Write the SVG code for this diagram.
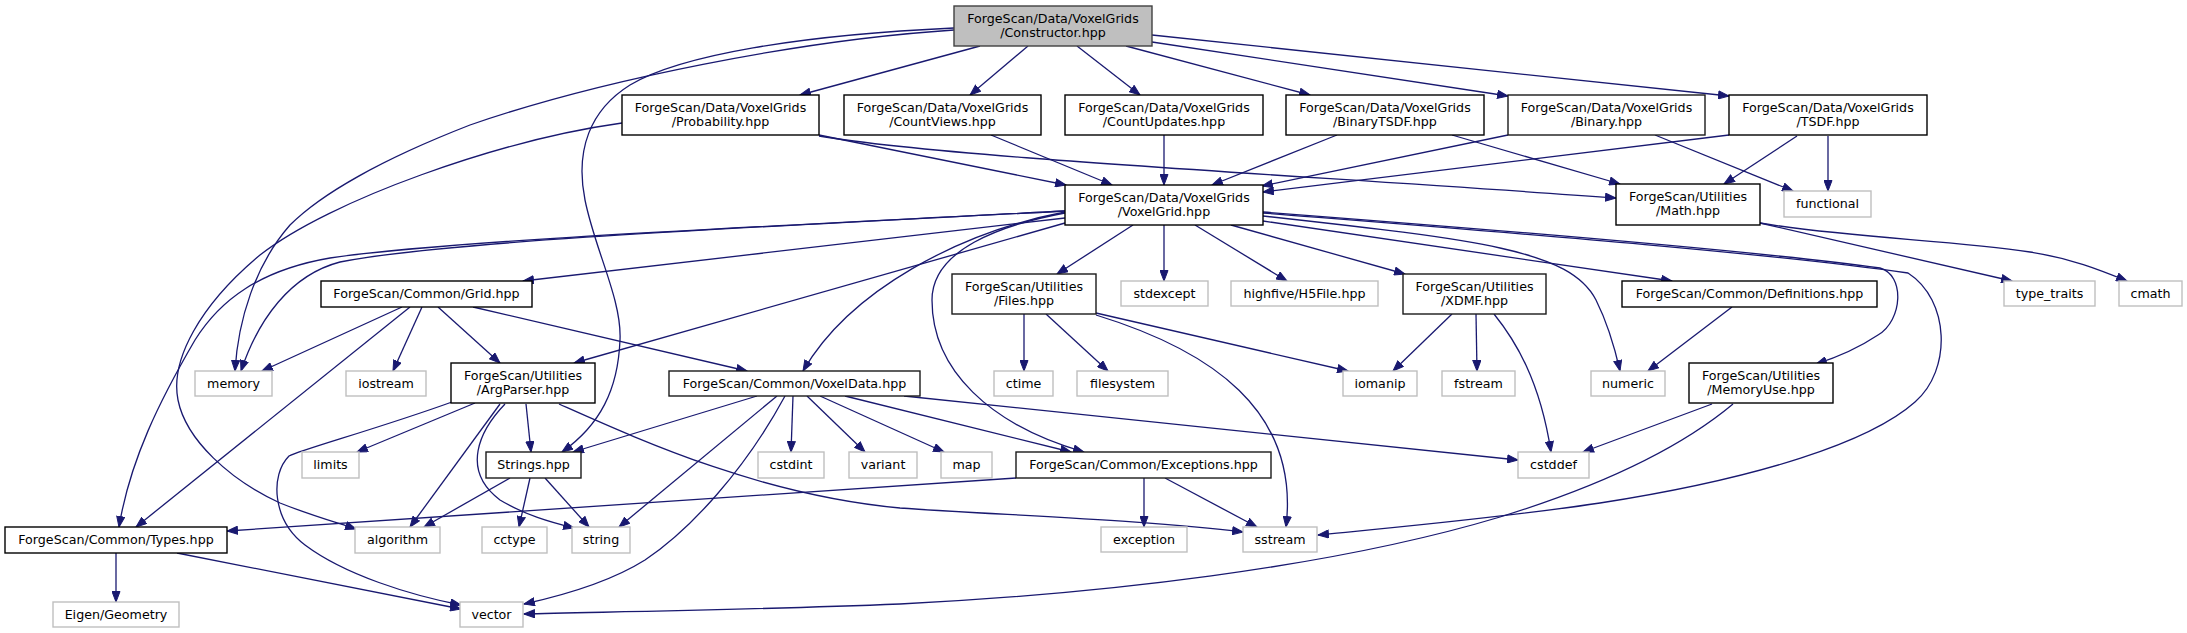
<svg xmlns="http://www.w3.org/2000/svg" width="2187" height="633" viewBox="0 0 2187 633">
<defs>
<style>
rect{fill:#fff;stroke:#000;stroke-width:1.4}
.g rect{stroke:#bfbfbf}
.d rect{stroke:#1a1a1a}
.r rect{fill:#bfbfbf;stroke:#404040}
text{font-family:"DejaVu Sans","Liberation Sans",sans-serif;font-size:12.67px;text-anchor:middle;fill:#000}
#edges path{fill:none;stroke:#191970;stroke-width:1.3;marker-end:url(#a)}
</style>
<marker id="a" markerWidth="12" markerHeight="9" refX="11" refY="4.5" orient="auto" markerUnits="userSpaceOnUse"><path d="M0.5,0.5 L11,4.5 L0.5,8.5 z" fill="#191970" stroke="#191970" stroke-width="1"/></marker>
</defs>
<rect x="0" y="0" width="2187" height="633" style="fill:#fff;stroke:none"/>
<g id="edges">
<path d="M980,46 L800,95"/>
<path d="M1028,46 L970,95"/>
<path d="M1077,46 L1140,95"/>
<path d="M1126,46 L1310,95"/>
<path d="M1152,42 L1508,96"/>
<path d="M1152,35 L1729,96"/>
<path d="M954,28 C800,35 680,55 630,85 C590,110 575,150 585,200 C595,250 622,300 620,340 C618,390 600,425 562,452"/>
<path d="M954,30 C800,40 600,80 470,125 C380,160 320,195 290,225 C255,265 238,320 235,371"/>
<path d="M819,135 L1066,185"/>
<path d="M819,136 C950,158 1300,175 1616,198"/>
<path d="M622,123 C500,140 330,200 260,255 C200,305 170,360 178,400 C186,440 230,480 280,503 C310,515 335,522 356,529"/>
<path d="M991,135 L1112,185"/>
<path d="M1164,135 L1164,185"/>
<path d="M1337,135 L1212,185"/>
<path d="M1452,135 L1620,184"/>
<path d="M1508,135 L1262,186"/>
<path d="M1655,135 L1793,191"/>
<path d="M1729,135 L1263,192"/>
<path d="M1797,136 L1724,184"/>
<path d="M1828,136 L1828,191"/>
<path d="M1065,218 L523,281"/>
<path d="M1065,211 C800,225 450,240 340,262 C290,275 258,320 241,371"/>
<path d="M1065,211 C800,225 450,240 330,258 C260,270 220,300 195,340 C160,400 130,460 119,527"/>
<path d="M1065,223 L574,363"/>
<path d="M1065,212 C960,232 850,290 803,371"/>
<path d="M1065,213 C1000,225 932,250 932,300 C932,370 990,425 1084,452"/>
<path d="M1133,225 L1057,274"/>
<path d="M1164,225 L1164,281"/>
<path d="M1195,225 L1287,281"/>
<path d="M1231,225 L1405,274"/>
<path d="M1263,221 L1672,281"/>
<path d="M1263,216 C1480,240 1570,250 1596,300 C1605,318 1613,340 1620,371"/>
<path d="M1263,212 C1500,230 1750,250 1880,268 C1905,275 1903,320 1878,335 C1860,347 1838,357 1816,364"/>
<path d="M1263,213 C1500,232 1760,252 1908,273 C1950,300 1952,370 1915,402 C1870,442 1760,478 1600,503 C1500,518 1400,527 1318,535"/>
<path d="M402,307 L262,371"/>
<path d="M410,307 L136,527"/>
<path d="M422,307 L393,371"/>
<path d="M438,307 L500,363"/>
<path d="M473,307 L747,371"/>
<path d="M452,402 C380,428 300,450 289,456 C270,475 272,520 305,545 C345,575 410,595 461,605"/>
<path d="M475,403 L357,452"/>
<path d="M500,404 L410,527"/>
<path d="M505,404 C480,430 460,470 500,500 C525,515 550,522 574,528"/>
<path d="M526,404 L531,452"/>
<path d="M559,404 C640,440 760,495 900,508 C1000,515 1150,520 1243,532"/>
<path d="M510,478 L424,527"/>
<path d="M530,478 L519,527"/>
<path d="M545,478 L589,527"/>
<path d="M116,553 L116,602"/>
<path d="M177,553 L461,609"/>
<path d="M757,396 L573,452"/>
<path d="M777,396 L619,527"/>
<path d="M785,396 C745,470 690,530 645,560 C610,582 565,595 524,604"/>
<path d="M793,396 L791,452"/>
<path d="M807,396 L865,452"/>
<path d="M820,396 L944,452"/>
<path d="M845,396 L1071,452"/>
<path d="M904,396 L1518,460"/>
<path d="M1024,314 L1024,371"/>
<path d="M1046,314 L1108,371"/>
<path d="M1096,313 L1348,371"/>
<path d="M1096,315 C1210,350 1300,410 1286,527"/>
<path d="M1452,314 L1393,371"/>
<path d="M1476,314 L1477,371"/>
<path d="M1494,314 C1515,340 1540,380 1551,452"/>
<path d="M1016,478 L227,531"/>
<path d="M1144,478 L1144,527"/>
<path d="M1165,478 L1257,527"/>
<path d="M1760,223 L2012,281"/>
<path d="M1760,223 C1850,238 1950,240 2030,252 C2070,258 2100,270 2127,281"/>
<path d="M1732,307 L1648,371"/>
<path d="M1712,404 L1583,452"/>
<path d="M1733,404 C1690,440 1620,480 1500,517 C1330,568 1100,594 900,604 C750,610 600,612 524,614"/>
</g>
<g id="n-constructor" class="r"><rect x="954" y="6" width="198" height="40"/><text x="1053" y="22.5">ForgeScan/Data/VoxelGrids</text><text x="1053" y="36.5">/Constructor.hpp</text></g>
<g id="n-probability"><rect x="622" y="95" width="197" height="40"/><text x="720.5" y="111.5">ForgeScan/Data/VoxelGrids</text><text x="720.5" y="125.5">/Probability.hpp</text></g>
<g id="n-countviews"><rect x="844" y="95" width="197" height="40"/><text x="942.5" y="111.5">ForgeScan/Data/VoxelGrids</text><text x="942.5" y="125.5">/CountViews.hpp</text></g>
<g id="n-countupdates"><rect x="1065" y="95" width="198" height="40"/><text x="1164" y="111.5">ForgeScan/Data/VoxelGrids</text><text x="1164" y="125.5">/CountUpdates.hpp</text></g>
<g id="n-binarytsdf"><rect x="1286" y="95" width="198" height="40"/><text x="1385" y="111.5">ForgeScan/Data/VoxelGrids</text><text x="1385" y="125.5">/BinaryTSDF.hpp</text></g>
<g id="n-binary" class="d"><rect x="1508" y="95" width="197" height="40"/><text x="1606.5" y="111.5">ForgeScan/Data/VoxelGrids</text><text x="1606.5" y="125.5">/Binary.hpp</text></g>
<g id="n-tsdf"><rect x="1729" y="95" width="198" height="40"/><text x="1828" y="111.5">ForgeScan/Data/VoxelGrids</text><text x="1828" y="125.5">/TSDF.hpp</text></g>
<g id="n-voxelgrid"><rect x="1065" y="185" width="198" height="40"/><text x="1164" y="201.5">ForgeScan/Data/VoxelGrids</text><text x="1164" y="215.5">/VoxelGrid.hpp</text></g>
<g id="n-math"><rect x="1616" y="184" width="144" height="41"/><text x="1688" y="200.5">ForgeScan/Utilities</text><text x="1688" y="214.5">/Math.hpp</text></g>
<g id="n-functional" class="g"><rect x="1784" y="191" width="87" height="26"/><text x="1827.5" y="208">functional</text></g>
<g id="n-grid"><rect x="321" y="281" width="211" height="26"/><text x="426.5" y="298">ForgeScan/Common/Grid.hpp</text></g>
<g id="n-files" class="d"><rect x="952" y="274" width="144" height="40"/><text x="1024" y="290.5">ForgeScan/Utilities</text><text x="1024" y="304.5">/Files.hpp</text></g>
<g id="n-stdexcept" class="g"><rect x="1121" y="281" width="87" height="25"/><text x="1164.5" y="298">stdexcept</text></g>
<g id="n-highfive" class="g"><rect x="1231" y="281" width="147" height="25"/><text x="1304.5" y="298">highfive/H5File.hpp</text></g>
<g id="n-xdmf" class="d"><rect x="1403" y="274" width="143" height="40"/><text x="1474.5" y="290.5">ForgeScan/Utilities</text><text x="1474.5" y="304.5">/XDMF.hpp</text></g>
<g id="n-definitions"><rect x="1622" y="281" width="255" height="26"/><text x="1749.5" y="298">ForgeScan/Common/Definitions.hpp</text></g>
<g id="n-type_traits" class="g"><rect x="2004" y="281" width="91" height="25"/><text x="2049.5" y="298">type_traits</text></g>
<g id="n-cmath" class="g"><rect x="2119" y="281" width="63" height="25"/><text x="2150.5" y="298">cmath</text></g>
<g id="n-memory" class="g"><rect x="195" y="371" width="77" height="25"/><text x="233.5" y="388">memory</text></g>
<g id="n-iostream" class="g"><rect x="346" y="371" width="80" height="25"/><text x="386" y="388">iostream</text></g>
<g id="n-argparser"><rect x="451" y="363" width="144" height="40"/><text x="523" y="379.5">ForgeScan/Utilities</text><text x="523" y="393.5">/ArgParser.hpp</text></g>
<g id="n-voxeldata" class="d"><rect x="669" y="371" width="251" height="25"/><text x="794.5" y="388">ForgeScan/Common/VoxelData.hpp</text></g>
<g id="n-ctime" class="g"><rect x="994" y="371" width="59" height="25"/><text x="1023.5" y="388">ctime</text></g>
<g id="n-filesystem" class="g"><rect x="1077" y="371" width="91" height="25"/><text x="1122.5" y="388">filesystem</text></g>
<g id="n-iomanip" class="g"><rect x="1343" y="371" width="74" height="25"/><text x="1380" y="388">iomanip</text></g>
<g id="n-fstream" class="g"><rect x="1442" y="371" width="73" height="25"/><text x="1478.5" y="388">fstream</text></g>
<g id="n-numeric" class="g"><rect x="1591" y="371" width="74" height="25"/><text x="1628" y="388">numeric</text></g>
<g id="n-memoryuse"><rect x="1689" y="363" width="144" height="40"/><text x="1761" y="379.5">ForgeScan/Utilities</text><text x="1761" y="393.5">/MemoryUse.hpp</text></g>
<g id="n-limits" class="g"><rect x="302" y="452" width="57" height="26"/><text x="330.5" y="469">limits</text></g>
<g id="n-strings" class="d"><rect x="486" y="452" width="95" height="26"/><text x="533.5" y="469">Strings.hpp</text></g>
<g id="n-cstdint" class="g"><rect x="758" y="452" width="66" height="26"/><text x="791" y="469">cstdint</text></g>
<g id="n-variant" class="g"><rect x="849" y="452" width="68" height="26"/><text x="883" y="469">variant</text></g>
<g id="n-map" class="g"><rect x="941" y="452" width="51" height="26"/><text x="966.5" y="469">map</text></g>
<g id="n-exceptions" class="d"><rect x="1016" y="452" width="255" height="26"/><text x="1143.5" y="469">ForgeScan/Common/Exceptions.hpp</text></g>
<g id="n-cstddef" class="g"><rect x="1518" y="452" width="71" height="26"/><text x="1553.5" y="469">cstddef</text></g>
<g id="n-types"><rect x="5" y="527" width="222" height="26"/><text x="116" y="544">ForgeScan/Common/Types.hpp</text></g>
<g id="n-algorithm" class="g"><rect x="355" y="527" width="85" height="26"/><text x="397.5" y="544">algorithm</text></g>
<g id="n-cctype" class="g"><rect x="482" y="527" width="65" height="26"/><text x="514.5" y="544">cctype</text></g>
<g id="n-string" class="g"><rect x="572" y="527" width="58" height="26"/><text x="601" y="544">string</text></g>
<g id="n-exception" class="g"><rect x="1101" y="527" width="86" height="25"/><text x="1144" y="544">exception</text></g>
<g id="n-sstream" class="g"><rect x="1243" y="527" width="74" height="25"/><text x="1280" y="544">sstream</text></g>
<g id="n-eigen" class="g"><rect x="53" y="602" width="126" height="25"/><text x="116" y="619">Eigen/Geometry</text></g>
<g id="n-vector" class="g"><rect x="460" y="602" width="63" height="25"/><text x="491.5" y="619">vector</text></g>
</svg>
